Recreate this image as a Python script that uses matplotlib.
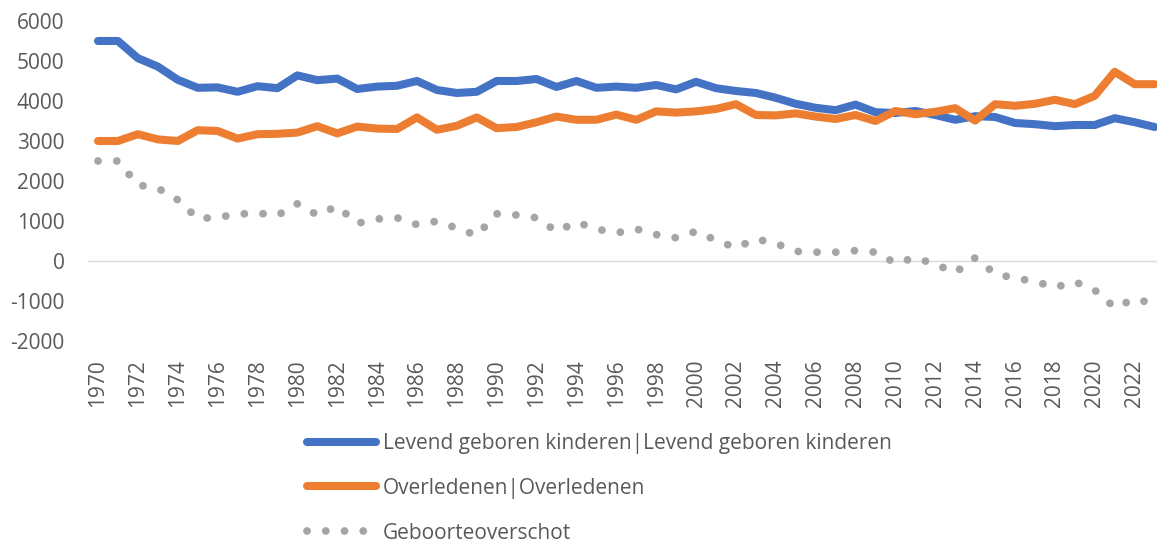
import matplotlib
matplotlib.use("Agg")
import matplotlib.pyplot as plt

# data
years = list(range(1970, 2024))

levend_geboren = [5500, 5500, 5070, 4860, 4530, 4330, 4340, 4230, 4370, 4320,
                  4640, 4520, 4560, 4300, 4360, 4380, 4500, 4275, 4200, 4230,
                  4500, 4500, 4550, 4350, 4500, 4330, 4360, 4330, 4400, 4290,
                  4480, 4320, 4250, 4200, 4080, 3930, 3830, 3770, 3910, 3720,
                  3700, 3750, 3650, 3530, 3620, 3600, 3450, 3420, 3370, 3400,
                  3400, 3570, 3470, 3350]

overledenen = [3000, 3000, 3170, 3040, 3000, 3270, 3250, 3060, 3170, 3180,
               3210, 3370, 3190, 3360, 3310, 3300, 3590, 3280, 3380, 3590,
               3320, 3350, 3470, 3610, 3530, 3530, 3660, 3530, 3740, 3710,
               3740, 3800, 3920, 3650, 3640, 3690, 3610, 3550, 3650, 3500,
               3750, 3670, 3730, 3820, 3510, 3920, 3880, 3930, 4030, 3920,
               4130, 4730, 4420, 4420]

geboorteoverschot = [2500, 2500, 1900, 1820, 1530, 1060, 1090, 1170, 1200, 1140,
                     1430, 1150, 1370, 940, 1050, 1080, 910, 995, 820, 640,
                     1180, 1150, 1080, 740, 970, 800, 700, 800, 660, 580,
                     740, 520, 330, 550, 440, 240, 220, 220, 260, 220,
                     -50, 80, -80, -290, 80, -320, -430, -510, -660, -520,
                     -730, -1160, -950, -1070]

labels = ["Levend geboren kinderen|Levend geboren kinderen",
          "Overledenen|Overledenen",
          "Geboorteoverschot"]

y_ticks = list(range(-2000, 7000, 1000))
x_ticks = list(range(1970, 2024, 2))

text_color = "#595959"
plt.rcParams["font.family"] = ["Open Sans", "DejaVu Sans"]
plt.rcParams["axes.unicode_minus"] = False

fig = plt.figure(figsize=(11.57, 5.45), dpi=100)
ax = fig.add_axes([0.0761, 0.3743, 0.9304, 0.5872])

# zero line (category axis crosses here)
ax.axhline(0, color="#D9D9D9", lw=1.0, zorder=1)

ax.plot(years, levend_geboren, color="#4472C4", lw=5.8,
        solid_capstyle="round", solid_joinstyle="round", label=labels[0], zorder=2)
ax.plot(years, overledenen, color="#ED7D31", lw=5.8,
        solid_capstyle="round", solid_joinstyle="round", label=labels[1], zorder=3)
ax.plot(years, geboorteoverschot, color="#A5A5A5", lw=5.6,
        linestyle=(0, (0.01, 2.4)), dash_capstyle="round", label=labels[2], zorder=4)

ax.set_xlim(1969.5, 2023.5)
ax.set_ylim(-2000, 6000)
ax.set_yticks(y_ticks)
ax.set_xticks(x_ticks)
ax.set_xticklabels([str(x) for x in x_ticks], rotation=90)
ax.tick_params(axis="y", length=0, pad=17, labelsize=15, labelcolor=text_color)
ax.tick_params(axis="x", length=0, pad=13, labelsize=15, labelcolor=text_color)
for s in ax.spines.values():
    s.set_visible(False)

leg = fig.legend(loc="upper left", bbox_to_anchor=(0.2653, 0.2055), frameon=False,
                 fontsize=15, borderpad=0, borderaxespad=0, handlelength=3.32,
                 handletextpad=0.33, labelspacing=1.14)
for t in leg.get_texts():
    t.set_color(text_color)

fig.savefig("out.png", dpi=100)
